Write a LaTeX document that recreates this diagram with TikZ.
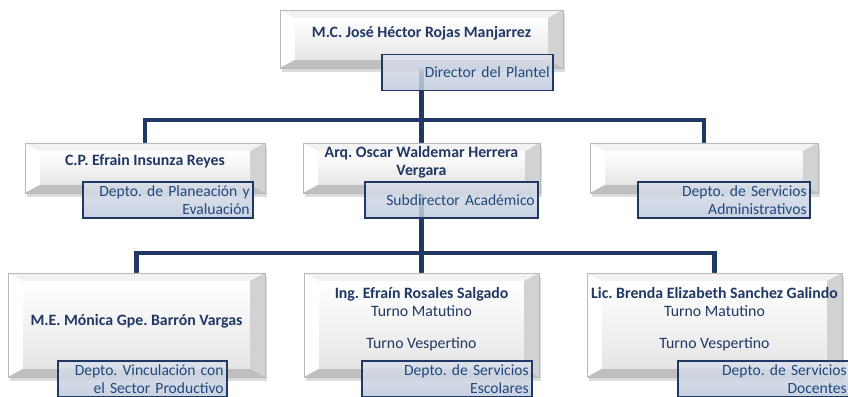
\documentclass[tikz,border=0pt]{standalone}
\usepackage{fontspec}
\setmainfont{Carlito}
\frenchspacing
\usetikzlibrary{positioning,shadows,backgrounds}

\definecolor{navy}{HTML}{1F3864}
\definecolor{namecol}{HTML}{1F3864}
\definecolor{deptcol}{HTML}{1F497D}
\definecolor{deptfill}{HTML}{BFC9DB}

\tikzset{
  % bevelled person box, #1 = width, #2 = height (in px)
  bevelbox/.style 2 args={
    minimum width=#1*0.03cm, minimum height=#2*0.03cm,
    inner sep=2pt, align=center, text=namecol,
    font=\fontsize{13.5}{15.3}\selectfont,
    draw=gray!55, line width=0.4pt, fill=gray!25,
    drop shadow={shadow xshift=2pt,shadow yshift=-3pt,opacity=.35,fill=gray!80},
    path picture={
      \path (path picture bounding box.north west) coordinate (pnw)
            (path picture bounding box.north east) coordinate (pne)
            (path picture bounding box.south west) coordinate (psw)
            (path picture bounding box.south east) coordinate (pse);
      \fill[white] (pnw) -- (psw) -- ([shift={(13pt,7pt)}]psw) -- ([shift={(13pt,-7pt)}]pnw) -- cycle;
      \fill[gray!10] (pnw) -- (pne) -- ([shift={(-13pt,-7pt)}]pne) -- ([shift={(13pt,-7pt)}]pnw) -- cycle;
      \fill[gray!35] (pne) -- (pse) -- ([shift={(-13pt,7pt)}]pse) -- ([shift={(-13pt,-7pt)}]pne) -- cycle;
      \fill[gray!50] (psw) -- (pse) -- ([shift={(-13pt,7pt)}]pse) -- ([shift={(13pt,7pt)}]psw) -- cycle;
      \shade[top color=white,bottom color=gray!20] ([shift={(13pt,-7pt)}]pnw) rectangle ([shift={(-13pt,7pt)}]pse);
    }
  },
  % department tag, #1 = text width
  dept/.style={
    text width=#1, inner xsep=0.1cm, inner ysep=1pt,
    minimum height=1.08cm, align=right,
    draw=navy, line width=1.6pt,
    top color=deptfill!55, bottom color=deptfill, fill opacity=.85, text opacity=1,
    text=deptcol, font=\fontsize{13.3}{15.3}\selectfont
  },
  link/.style={draw=navy, line width=4pt}
}

\begin{document}
\begin{tikzpicture}[x=0.03cm,y=0.03cm]

  \useasboundingbox (0,0) rectangle (848,397);

  % Director
  \node[bevelbox={283}{58},text depth=12pt] (director) at (421.5,358)
       {\textbf{M.C. José Héctor Rojas Manjarrez}};
  \node[dept=4.93cm] (plantel) at (467.5,324.5) {Director del Plantel};

  % Second level
  \node[bevelbox={240}{50},text depth=13pt] (planeacion) at (145,229)
       {\textbf{C.P. Efrain Insunza Reyes}};
  \node[bevelbox={237}{50},text depth=12pt] (academico) at (421.5,229)
       {\textbf{Arq. Oscar Waldemar Herrera}\\\textbf{Vergara}};
  \node[bevelbox={228}{50}] (servicios) at (704,229) {};

  \node[dept=4.9cm]  (planeaciondept) at (168,197) {Depto. de Planeación y\\Evaluación};
  \node[dept=4.99cm] (subdirector)    at (451.5,197) {Subdirector Académico};
  \node[dept=4.96cm] (administrativos) at (724,197) {Depto. de Servicios\\Administrativos};

  % Third level
  \node[bevelbox={257}{104},text depth=9pt] (vinculacion) at (136.5,72)
       {\textbf{M.E. Mónica Gpe. Barrón Vargas}};
  \node[bevelbox={235}{104},text depth=12pt] (escolares) at (421.5,72)
       {\textbf{Ing. Efraín Rosales Salgado}\\Turno Matutino\\[12.5pt]Turno Vespertino};
  \node[bevelbox={255}{104},text depth=12pt] (docentes) at (714.5,72)
       {\textbf{Lic. Brenda Elizabeth Sanchez Galindo}\\Turno Matutino\\[12.5pt]Turno Vespertino};

  \node[dept=4.87cm] (vinculaciondept) at (142.5,18) {Depto. Vinculación con\\el Sector Productivo};
  \node[dept=4.9cm]  (escolaresdept)   at (447,18) {Depto. de Servicios\\Escolares};
  \node[dept=4.96cm] (docentesdept)    at (764,18) {Depto. de Servicios\\Docentes};

  % Connectors
  \coordinate (bar1) at (0,277);
  \coordinate (bar2) at (0,144);
  \begin{pgfonlayer}{background}
    \draw[link] (director.south) -- (director |- bar1);
    \draw[link] (planeacion.north) |- (director |- bar1) -| (servicios.north);
    \draw[link] (academico.north) -- (academico |- bar1);
    \draw[link] (academico.south) -- (academico |- bar2);
    \draw[link] (vinculacion.north) |- (academico |- bar2) -| (docentes.north);
    \draw[link] (escolares.north) -- (escolares |- bar2);
  \end{pgfonlayer}

\end{tikzpicture}
\end{document}
